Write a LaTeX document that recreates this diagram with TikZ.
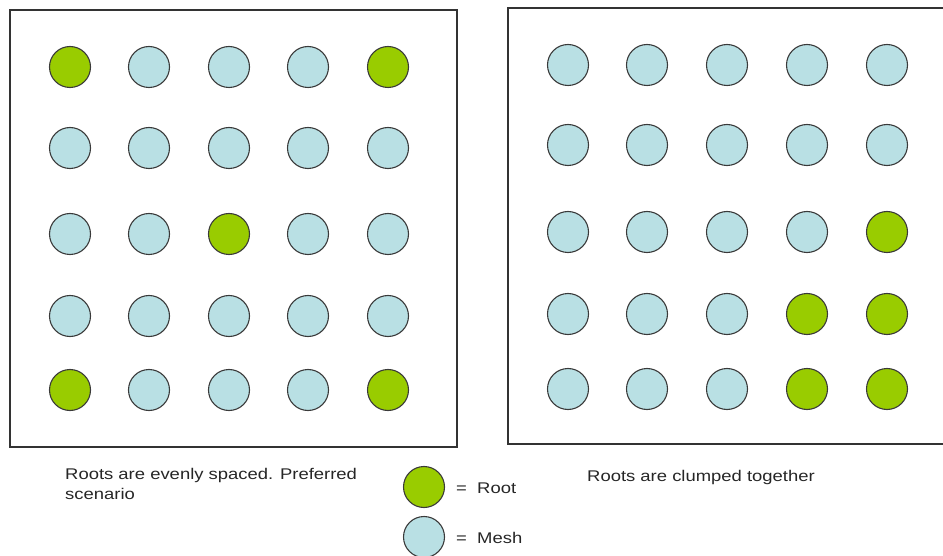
\documentclass[tikz,border=0pt]{standalone}
\usepackage{fontspec}
\setmainfont{Liberation Sans}
\newfontfamily\capfont[FakeStretch=1.19]{Liberation Sans}
\definecolor{rootgreen}{HTML}{99CC00}
\definecolor{meshblue}{HTML}{B9E0E4}
\definecolor{edgegray}{HTML}{3A3A3A}
\begin{document}
\begin{tikzpicture}[x=1pt,y=-1pt,
  node/.style={circle,draw=edgegray,line width=1.1pt,minimum size=41pt,inner sep=0pt},
  mesh/.style={node,fill=meshblue},
  root/.style={node,fill=rootgreen},
  frame/.style={draw=black!80,line width=1.2pt},
  lbl/.style={font=\capfont\fontsize{15.5}{20}\selectfont,text=black!85,inner sep=0pt,anchor=north west,align=left}]
\useasboundingbox (0,0) rectangle (943,556);
% left frame
\draw[frame] (10,10) rectangle (457,447);
% right frame (extends beyond right edge)
\draw[frame] (943,8) -- (508,8) -- (508,444) -- (943,444);
% left grid
\def\lx{{70,149,229,308,388}}
\def\ly{{67,148,234,316,390}}
\foreach \r in {0,...,4}{
  \foreach \c in {0,...,4}{
    \pgfmathsetmacro{\xx}{\lx[\c]}
    \pgfmathsetmacro{\yy}{\ly[\r]}
    \def\st{mesh}
    \ifnum\r=0 \ifnum\c=0 \def\st{root}\fi \ifnum\c=4 \def\st{root}\fi\fi
    \ifnum\r=4 \ifnum\c=0 \def\st{root}\fi \ifnum\c=4 \def\st{root}\fi\fi
    \ifnum\r=2 \ifnum\c=2 \def\st{root}\fi\fi
    \node[\st] (L\r\c) at (\xx,\yy) {};
  }
}
% right grid
\def\rx{{568,647,727,807,887}}
\def\ry{{65,145,232,314,389}}
\foreach \r in {0,...,4}{
  \foreach \c in {0,...,4}{
    \pgfmathsetmacro{\xx}{\rx[\c]}
    \pgfmathsetmacro{\yy}{\ry[\r]}
    \def\st{mesh}
    \ifnum\r=2 \ifnum\c=4 \def\st{root}\fi\fi
    \ifnum\r=3 \ifnum\c>2 \def\st{root}\fi\fi
    \ifnum\r=4 \ifnum\c>2 \def\st{root}\fi\fi
    \node[\st] (R\r\c) at (\xx,\yy) {};
  }
}
% captions
\node[lbl] (capL) at (65,468.5) {Roots are evenly spaced. Preferred\\scenario};
\node[lbl] (capR) at (587,470.5) {Roots are clumped together};
% legend
\node[root] (legroot) at (424,487) {};
\node[mesh] (legmesh) at (424,537) {};
\node[lbl,anchor=west] (legrootlbl) at (456,488) {=\ \ Root};
\node[lbl,anchor=west] (legmeshlbl) at (456,538) {=\ \ Mesh};
\end{tikzpicture}
\end{document}
